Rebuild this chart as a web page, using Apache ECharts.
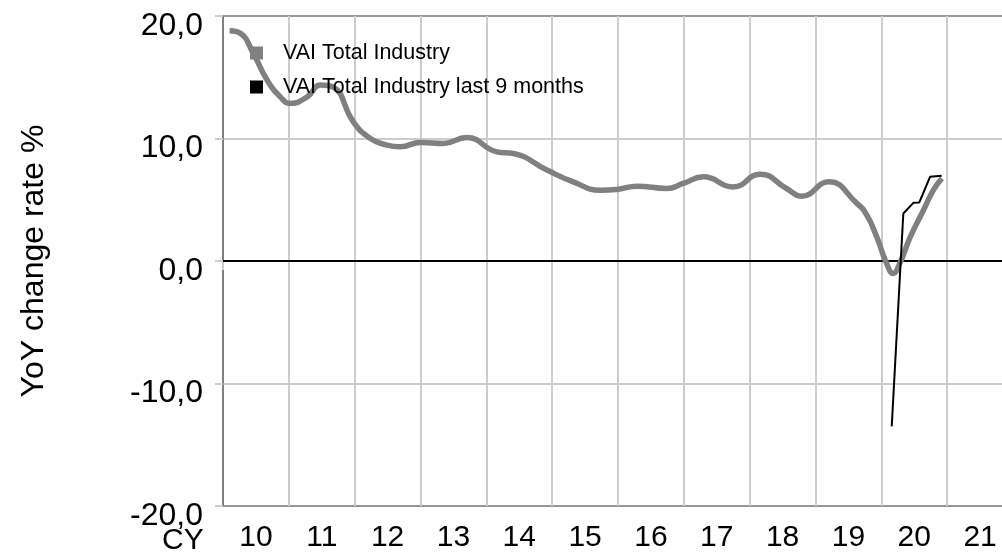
<!DOCTYPE html>
<html>
<head>
<meta charset="utf-8">
<script src="https://cdn.jsdelivr.net/npm/echarts@6/dist/echarts.min.js"></script>
<style>
html,body{margin:0;padding:0;background:#fff;}
#chart{width:1002px;height:556px;}
</style>
</head>
<body>
<div id="chart"></div>
<script>
const yearLabels = ['10','11','12','13','14','15','16','17','18','19','20','21'];
const axisStartYear = 2010;
const axisEndYear = 2022;

const totalYears = [2010.10,2010.26,2010.46,2010.67,2010.87,2011.02,2011.28,2011.48,2011.67,2011.98,
  2012.24,2012.49,2012.69,2013.00,2013.35,2013.70,2014.16,2014.41,2014.92,2015.32,2015.73,2015.98,
  2016.29,2016.74,2016.99,2017.30,2017.75,2018.16,2018.56,2018.79,2019.20,2019.63,2019.78,2019.93,
  2020.08,2020.18,2020.28,2020.44,2020.64,2020.79,2020.92];
const totalValues = [18.8,18.6,16.95,14.77,13.4,12.87,13.4,14.36,14.2,11.36,
  10.0,9.46,9.32,9.68,9.6,10.09,8.91,8.78,7.42,6.46,5.78,5.84,
  6.11,5.92,6.33,6.87,6.05,7.09,5.92,5.29,6.46,4.7,3.74,1.97,
  -0.2,-1.02,-0.2,1.97,4.15,5.78,6.74];

const last9Years = [2020.158,2020.334,2020.486,2020.577,2020.74,2020.917];
const last9Values = [-13.5,3.88,4.75,4.78,6.87,6.95];

const seriesNames = ['VAI Total Industry','VAI Total Industry last 9 months'];

const chart = echarts.init(document.getElementById('chart'), null, {renderer:'canvas'});
const fmt = v => v.toFixed(1).replace('.', ',');
const FONT = 'Liberation Sans, Arial, sans-serif';

chart.setOption({
  animation:false,
  backgroundColor:'#fff',
  textStyle:{fontFamily:FONT},
  grid:{left:223, top:16, width:790, height:490, outerBoundsMode:'none', containLabel:false,
    show:true, borderColor:'#777', borderWidth:1.5, backgroundColor:'transparent'},
  legend:{
    orient:'vertical', left:250, top:42, padding:0, itemWidth:13, itemHeight:13, itemGap:12,
    icon:'rect',
    textStyle:{fontSize:21.5, color:'#000', fontFamily:FONT, padding:[0,0,0,15]},
    data:seriesNames
  },
  xAxis:[{
    type:'category', data:yearLabels, boundaryGap:true, position:'bottom',
    axisLine:{show:true, lineStyle:{color:'#222', width:1.5}},
    axisTick:{show:true, length:9, lineStyle:{color:'#ccc', width:2}},
    splitLine:{show:true, showMinLine:false, lineStyle:{color:'#ccc', width:2}},
    axisLabel:{fontSize:30, color:'#000', margin:17, fontFamily:FONT}
  },{
    type:'value', min:axisStartYear, max:axisEndYear, show:false
  }],
  yAxis:{
    type:'value', min:-20, max:20, interval:10,
    name:'YoY change rate %', nameLocation:'middle', nameRotate:90, nameGap:173,
    nameTextStyle:{fontSize:32, color:'#000', fontFamily:FONT},
    axisLine:{show:true, lineStyle:{color:'#777', width:1.5}},
    axisTick:{show:true, length:8, lineStyle:{color:'#ccc', width:2}},
    splitLine:{show:true, showMinLine:false, showMaxLine:false, lineStyle:{color:'#ccc', width:2}},
    axisLabel:{fontSize:32, color:'#000', margin:20, formatter:fmt, verticalAlign:'top', lineHeight:20, fontFamily:FONT}
  },
  graphic:[{
    type:'text', left:162, top:526,
    style:{text:'CY', fontSize:30, fill:'#000', fontFamily:FONT}
  }],
  series:[{
    name:seriesNames[0], type:'line', xAxisIndex:1, smooth:0.5, showSymbol:false,
    data: totalYears.map((y,i)=>[y,totalValues[i]]),
    lineStyle:{color:'#808080', width:5.5}, itemStyle:{color:'#808080'},
    z:3,
    markLine:{silent:true, symbol:'none', label:{show:false},
      lineStyle:{color:'#000', width:2, type:'solid'}, data:[{yAxis:0}], z:2}
  },{
    name:seriesNames[1], type:'line', xAxisIndex:1, smooth:false, showSymbol:false,
    data: last9Years.map((y,i)=>[y,last9Values[i]]),
    lineStyle:{color:'#000', width:2}, itemStyle:{color:'#000'},
    z:4
  }]
});
</script>
</body>
</html>
